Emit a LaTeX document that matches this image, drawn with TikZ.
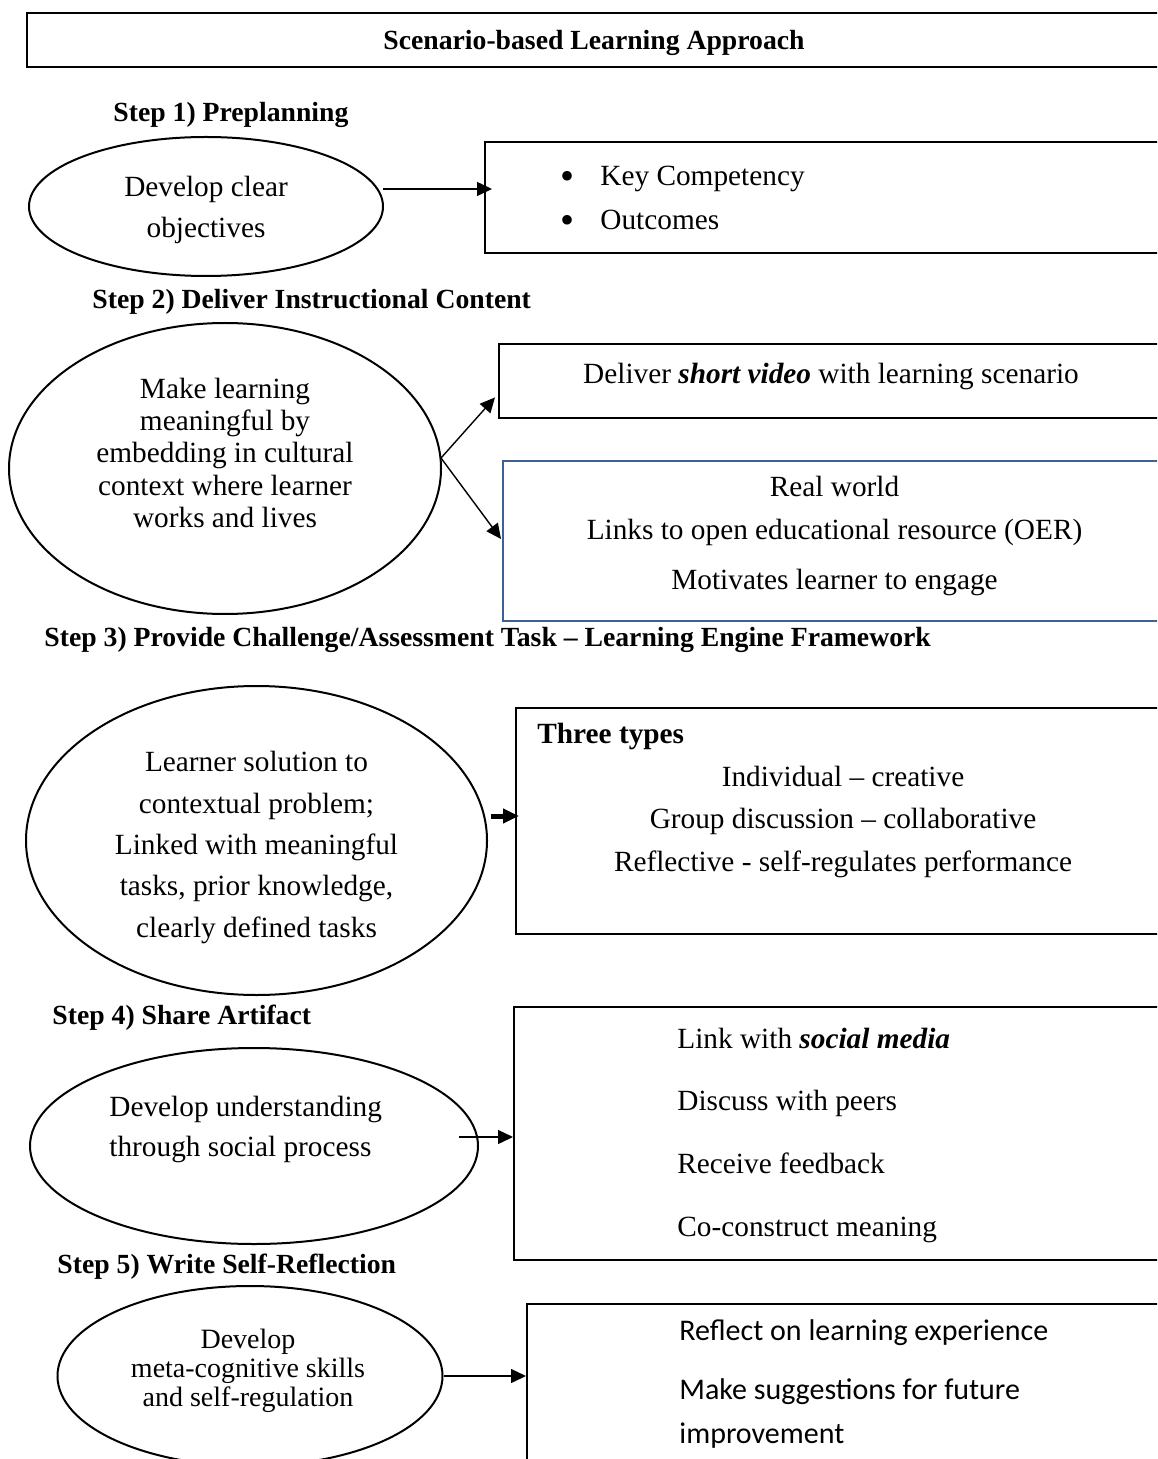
\documentclass[tikz,border=0pt]{standalone}
\usepackage{fontspec}
\setmainfont{Liberation Serif}
\newfontfamily\calib{Carlito}
\usetikzlibrary{shapes.geometric,arrows.meta,calc}
\definecolor{boxblue}{RGB}{61,96,150}
\begin{document}
\begin{tikzpicture}[x=0.5pt,y=-0.5pt,
  ell/.style={draw,ellipse,line width=1pt,inner sep=0pt},
  box/.style={draw,line width=1.2pt,inner sep=0pt,anchor=north west},
  reg/.style={inner sep=0pt,font=\fontsize{14.65pt}{16pt}\selectfont},
  regc/.style={reg,anchor=base},
  regl/.style={reg,anchor=base west},
  bul/.style={inner sep=0pt,anchor=base,font=\fontsize{20pt}{20pt}\selectfont},
  hd/.style={inner sep=0pt,anchor=base west,font=\fontsize{13.85pt}{16pt}\selectfont\bfseries},
  arr/.style={line width=0.7pt,-{Triangle[length=7.5pt,width=7pt]}},
  thickarr/.style={line width=2.5pt,-{Triangle[length=8pt,width=7pt]}}]
\useasboundingbox (0,0) rectangle (1157,1459);
\clip (0,0) rectangle (1157,1459);

% title
\node[box,line width=1pt,minimum width=577pt,minimum height=27pt] (titlebox) at (26,12) {};
\node[inner sep=0pt,anchor=base,font=\fontsize{13.85pt}{16pt}\selectfont\bfseries] (ttl) at (594,50) {Scenario-based Learning Approach};

% step 1
\node[hd] (s1) at (113,122) {Step 1) Preplanning};
\node[ell,minimum width=177pt,minimum height=69.5pt] (e1) at (206,206.5) {};
\node[regc] (e1a) at (206,197) {Develop clear};
\node[regc] (e1b) at (206,238) {objectives};
\node[box,minimum width=348pt,minimum height=55.5pt] (b1) at (484,141) {};
\node[bul] (b1d1) at (567,190) {•};
\node[regl] (b1a) at (600,186) {Key Competency};
\node[bul] (b1d2) at (567,234) {•};
\node[regl] (b1b) at (600,230) {Outcomes};
\coordinate (a1s) at (383,189);
\draw[arr,shorten >=-4pt] (a1s) -- (a1s -| b1.west);

% step 2
\node[hd] (s2) at (92,309) {Step 2) Deliver Instructional Content};
\node[ell,minimum width=216pt,minimum height=145.5pt] (e2) at (225,468.5) {};
\node[regc] (e2a) at (225,399) {Make learning};
\node[regc] (e2b) at (225,431) {meaningful by};
\node[regc] (e2c) at (225,463) {embedding in cultural};
\node[regc] (e2d) at (225,495) {context where learner};
\node[regc] (e2e) at (225,527) {works and lives};
\node[box,minimum width=341pt,minimum height=37pt] (b2a) at (498,343) {};
\node[regc] (b2at) at (831,384) {Deliver \textbf{\textit{short video}} with learning scenario};
\node[box,draw=boxblue,line width=0.8pt,minimum width=339pt,minimum height=80pt] (b2b) at (502,460) {};
\node[regc] (b2b1) at (834.5,496) {Real world};
\node[regc] (b2b2) at (834.5,539) {Links to open educational resource (OER)};
\node[regc] (b2b3) at (834.5,589) {Motivates learner to engage};
\coordinate (a2s) at (441,458);
\draw[arr] (a2s) -- ($(b2a.south west)+(-3,-22)$);
\draw[arr] (a2s) -- ($(b2b.north west)+(-1,79)$);

% step 3
\node[hd] (s3) at (44,646) {Step 3) Provide Challenge/Assessment Task -- Learning Engine Framework};
\node[ell,minimum width=230.5pt,minimum height=154.5pt] (e3) at (256.5,840.5) {};
\node[regc] (e3a) at (256.5,771) {Learner solution to};
\node[regc] (e3b) at (256.5,813) {contextual problem;};
\node[regc] (e3c) at (256.5,854) {Linked with meaningful};
\node[regc] (e3d) at (256.5,895) {tasks, prior knowledge,};
\node[regc] (e3e) at (256.5,937) {clearly defined tasks};
\node[box,minimum width=332.5pt,minimum height=113pt] (b3) at (515,707) {};
\node[regl,font=\fontsize{14.65pt}{16pt}\selectfont\bfseries] (b3h) at (537,743) {Three types};
\node[regc] (b3a) at (843,786) {Individual -- creative};
\node[regc] (b3b) at (843,828) {Group discussion -- collaborative};
\node[regc] (b3c) at (843,871) {Reflective - self-regulates performance};
\coordinate (a3s) at (491,816);
\draw[thickarr,shorten >=-2pt] (a3s) -- (a3s -| b3.west);

% step 4
\node[hd] (s4) at (52,1024) {Step 4) Share Artifact};
\node[ell,minimum width=224pt,minimum height=98pt] (e4) at (254,1146) {};
\node[regl] (e4a) at (109,1116) {Develop understanding};
\node[regl] (e4b) at (109,1156) {through social process};
\node[box,minimum width=333.5pt,minimum height=126.5pt] (b4) at (513,1006) {};
\node[regl] (b4a) at (677,1048) {Link with \textbf{\textit{social media}}};
\node[regl] (b4b) at (677,1110) {Discuss with peers};
\node[regl] (b4c) at (677,1173) {Receive feedback};
\node[regl] (b4d) at (677,1236) {Co-construct meaning};
\coordinate (a4s) at (459,1137);
\draw[arr] (a4s) -- (a4s -| b4.west);

% step 5
\node[hd] (s5) at (57,1273) {Step 5) Write Self-Reflection};
\node[ell,minimum width=192.5pt,minimum height=90pt] (e5) at (250,1376) {};
\node[inner sep=0pt,anchor=base,font=\fontsize{14pt}{15pt}\selectfont] (e5a) at (248,1348) {Develop};
\node[inner sep=0pt,anchor=base,font=\fontsize{14pt}{15pt}\selectfont] (e5b) at (248,1377) {meta-cognitive skills};
\node[inner sep=0pt,anchor=base,font=\fontsize{14pt}{15pt}\selectfont] (e5c) at (248,1406) {and self-regulation};
\node[box,minimum width=327pt,minimum height=100pt] (b5) at (526,1303) {};
\node[inner sep=0pt,anchor=base west,font=\calib\fontsize{15pt}{18pt}\selectfont] (b5a) at (679,1340) {Reflect on learning experience};
\node[inner sep=0pt,anchor=base west,font=\calib\fontsize{15pt}{18pt}\selectfont] (b5b) at (679,1399) {Make suggestions for future};
\node[inner sep=0pt,anchor=base west,font=\calib\fontsize{15pt}{18pt}\selectfont] (b5c) at (679,1443) {improvement};
\draw[arr] (e5.east) -- (e5.east -| b5.west);
\end{tikzpicture}
\end{document}
